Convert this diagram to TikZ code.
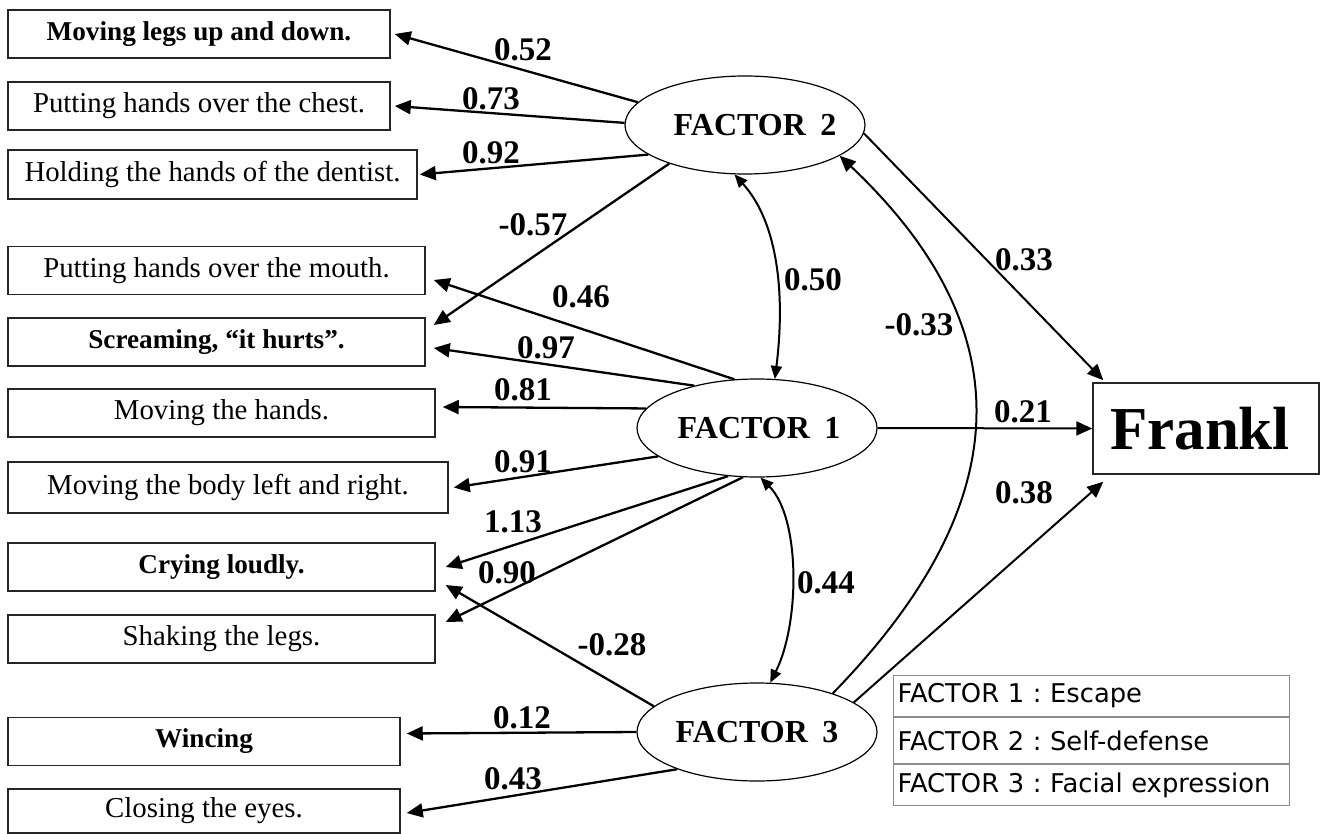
\documentclass[tikz,border=0pt]{standalone}
\usepackage{fontspec}
\setmainfont{Liberation Serif}
\newfontfamily\legendfont{DejaVu Sans}
\usetikzlibrary{arrows.meta,positioning,shapes.geometric}

\begin{document}
\begin{tikzpicture}
[
    x=0.5pt, y=-0.5pt,
    item/.style={draw=black!85, line width=0.75pt, minimum height=24pt, inner sep=0pt, font=\fontsize{14.4}{16}\selectfont},
    itembold/.style={item, font=\fontsize{13.6}{16}\selectfont\bfseries},
    factor/.style={ellipse, draw, line width=0.6pt, minimum width=120pt, minimum height=49pt, inner sep=0pt, font=\fontsize{16}{18}\selectfont\bfseries},
    coef/.style={inner sep=0pt, font=\fontsize{16.5}{18}\selectfont\bfseries},
    load/.style={-{Triangle[length=8pt,width=7pt]}, line width=1.15pt},
    cov/.style={{Triangle[length=6.5pt,width=5.5pt]}-{Triangle[length=6.5pt,width=5.5pt]}, line width=1pt},
    legend/.style={draw=black!45, line width=0.5pt, text width=194pt, inner xsep=2pt, inner ysep=0pt, align=left, font=\legendfont\fontsize{12.9}{15}\selectfont\frenchspacing},
]
\useasboundingbox (0,0) rectangle (1321,834);

\node[itembold, minimum width=191pt] (legs) at (199,34) {Moving legs up and down.};
\node[item, minimum width=191pt] (chest) at (199,106) {Putting hands over the chest.};
\node[item, minimum width=204.5pt, minimum height=24.5pt] (dentist) at (212.5,174.5) {Holding the hands of the dentist.};
\node[item, minimum width=208.5pt] (mouth) at (216.5,270.5) {Putting hands over the mouth.};
\node[itembold, minimum width=208.5pt] (scream) at (216.5,342) {Screaming, “it hurts”.};
\node[item, minimum width=213.5pt] (hands) at (221.5,413) {Moving the hands.};
\node[item, minimum width=220pt, minimum height=25.5pt] (body) at (228,487.5) {Moving the body left and right.};
\node[itembold, minimum width=213.5pt] (crying) at (221.5,567) {Crying loudly.};
\node[item, minimum width=213.5pt] (shaking) at (221.5,639) {Shaking the legs.};
\node[itembold, minimum width=196pt] (wincing) at (204,741.5) {Wincing};
\node[item, minimum width=196pt, minimum height=22pt] (closing) at (204,811) {Closing the eyes.};

\node[factor] (f2) at (745,125) {\makebox[0pt]{\hspace{10pt}FACTOR\hspace{0.45em}2}};
\node[factor] (f1) at (757,428) {\makebox[0pt]{\hspace{2pt}FACTOR\hspace{0.45em}1}};
\node[factor] (f3) at (757,732) {\makebox[0pt]{FACTOR\hspace{0.45em}3}};

\node[draw=black!85, line width=0.75pt, minimum width=113pt, minimum height=45.5pt, inner sep=0pt, font=\fontsize{30.5}{32}\selectfont\bfseries] (frankl) at (1206,428.5) {\makebox[0pt]{Frankl\hspace{6pt}}};

\node[legend, minimum height=20.5pt, anchor=north west] (leg1) at (893,675) {FACTOR 1 : Escape};
\node[legend, minimum height=23pt, below=0pt of leg1] (leg2) {FACTOR 2 : Self-defense};
\node[legend, minimum height=20.5pt, below=0pt of leg2] (leg3) {FACTOR 3 : Facial expression};

\draw[load] (f2.168) -- ([xshift=2pt]legs.east);
\draw[load] (f2.179) -- ([xshift=2pt]chest.east);
\draw[load] (f2.197) -- ([xshift=1pt]dentist.east);
\draw[load] (f2.207) -- ([xshift=4pt,yshift=8.5pt]scream.east);
\draw[load] (f1.115) -- ([xshift=4pt,yshift=-4.75pt]mouth.east);
\draw[load] (f1.146) -- ([xshift=4pt,yshift=-3pt]scream.east);
\draw[load] (f1.170) -- ([xshift=3.5pt,yshift=3pt]hands.east);
\draw[load] (f1.196) -- ([xshift=2.5pt]body.east);
\draw[load] (f1.239) -- ([xshift=5pt]crying.east);
\draw[load] (f1.254) -- ([xshift=5pt,yshift=8.5pt]shaking.east);
\draw[load] (f3.166) -- ([xshift=5pt,yshift=-9pt]crying.east);
\draw[load] (f3.west) -- ([xshift=3pt,yshift=4pt]wincing.east);
\draw[load] (f3.205) -- ([xshift=3pt,yshift=-1pt]closing.east);

\draw[load, line width=1pt] (f2.356) -- ([xshift=5.5pt,yshift=1pt]frankl.north west);
\draw[load, line width=1pt] (f1.east) -- (frankl.west);
\draw[load, line width=1pt] (f3.17) -- ([xshift=5.5pt,yshift=-3.5pt]frankl.south west);

\draw[cov] (f2.258) .. controls +(45,50) and +(10,-80) .. (f1.70);
\draw[cov] (f1.274) .. controls +(40,40) and +(30,-60) .. (f3.75);
\draw[load, line width=1pt] (f3.27) .. controls +(185,-190) and +(185,175) .. (f2.342);

\node[coef] (c052) at (523,50) {0.52};
\node[coef] (c073) at (491,99) {0.73};
\node[coef] (c092) at (491,153) {0.92};
\node[coef] (c057) at (533,225) {-0.57};
\node[coef] (c046) at (581,297) {0.46};
\node[coef] (c097) at (546,348) {0.97};
\node[coef] (c081) at (523,390) {0.81};
\node[coef] (c050) at (813,280) {0.50};
\node[coef] (c091) at (523,462) {0.91};
\node[coef] (c113) at (513,522) {1.13};
\node[coef] (c090) at (507,573) {0.90};
\node[coef] (c044) at (826,583) {0.44};
\node[coef] (c028) at (612,645) {-0.28};
\node[coef] (c012) at (522,718) {0.12};
\node[coef] (c043) at (513,779) {0.43};
\node[coef] (c033) at (1024,260) {0.33};
\node[coef] (c033n) at (919,325) {-0.33};
\node[coef] (c021) at (1023,412) {0.21};
\node[coef] (c038) at (1024,493) {0.38};
\end{tikzpicture}
\end{document}
